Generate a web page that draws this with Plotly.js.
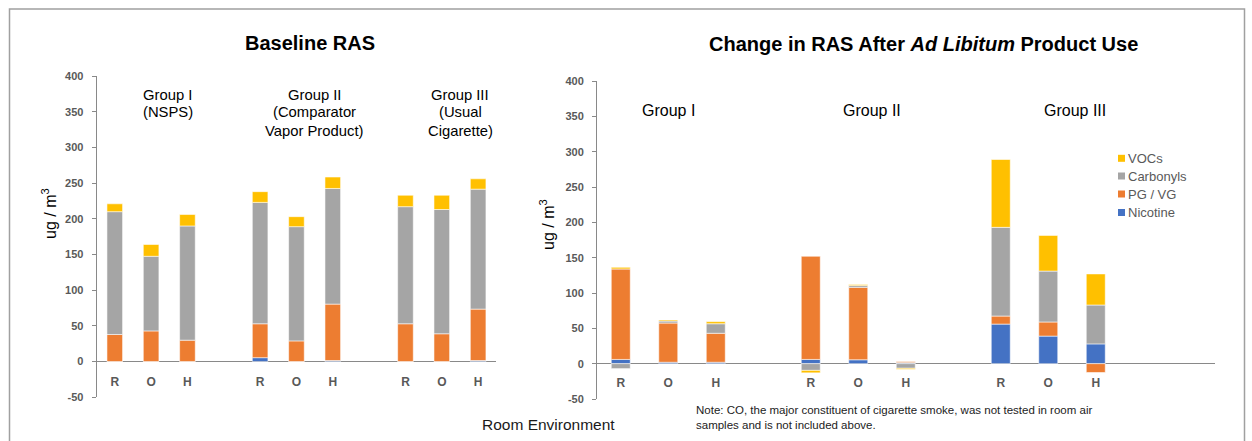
<!DOCTYPE html>
<html><head><meta charset="utf-8">
<script src="https://cdn.plot.ly/plotly-3.0.1.min.js"></script>
<style>html,body{margin:0;padding:0;background:#fff}</style>
</head><body><div id="chart" style="width:1252px;height:441px"></div>
<script>
// ---- data ----
const groups = ['Group I', 'Group II', 'Group III'];
const rooms = ['R', 'O', 'H'];
const seriesNames = ['Nicotine', 'PG / VG', 'Carbonyls', 'VOCs'];
const seriesColors = ['#4472C4', '#ED7D31', '#A5A5A5', '#FFC000'];

// Baseline RAS (order: I-R, I-O, I-H, II-R, II-O, II-H, III-R, III-O, III-H)
const baseNicotine  = [0, 0, 0,      5.5, 0, 1.5,    0, 0, 1.5];
const basePGVG      = [38, 43, 30,   47.5, 29, 79,   53, 39, 72];
const baseCarbonyls = [172, 104.5, 160, 170, 160, 162, 164, 174, 168];
const baseVOCs      = [11, 16.5, 16, 15, 14, 16,     16, 20, 14.5];

// Change in RAS after ad libitum product use
const chgNicotine  = [6, 2, 2,        6, 5.5, 1.5,     56, 39, 28];
const chgPGVG      = [128, 55.5, 41,  146, 102.5, 1.5, 11.4, 20, -12.5];
const chgCarbonyls = [-7, 2.8, 13.5,  -9.5, 2.5, -6.5, 125.5, 72, 55];
const chgVOCs      = [2.4, 1.5, 3,    -3.5, 1.5, -1.5, 96, 50.5, 44];

const leftGroupLabels = [['Group I', '(NSPS)'], ['Group II', '(Comparator', 'Vapor Product)'], ['Group III', '(Usual', 'Cigarette)']];
const rightGroupLabels = ['Group I', 'Group II', 'Group III'];
const yTicks = [-50, 0, 50, 100, 150, 200, 250, 300, 350, 400];

// ---- build ----
const W = 1252, H = 441;
const px = x => x / W;
const py = y => 1 - y / H;
const FONT = 'Liberation Sans, Arial, sans-serif';

// slot positions on a linear axis: groups separated by one empty slot
const slots = [], tickText = [];
groups.forEach((g, gi) => rooms.forEach((r, ri) => { slots.push(gi * (rooms.length + 1) + ri); tickText.push(r); }));

const baseSeries = [baseNicotine, basePGVG, baseCarbonyls, baseVOCs];
const chgSeries = [chgNicotine, chgPGVG, chgCarbonyls, chgVOCs];

const traces = [];
seriesNames.forEach((name, i) => {
  traces.push({type: 'bar', name, x: slots, y: baseSeries[i], xaxis: 'x', yaxis: 'y', width: 0.43,
    marker: {color: seriesColors[i], line: {color: 'rgba(255,255,255,0.7)', width: 0.8}},
    showlegend: false, hoverinfo: 'skip'});
});
seriesNames.forEach((name, i) => {
  traces.push({type: 'bar', name, x: slots, y: chgSeries[i], xaxis: 'x2', yaxis: 'y2', width: 0.40,
    marker: {color: seriesColors[i], line: {color: 'rgba(255,255,255,0.7)', width: 0.8}},
    showlegend: false, hoverinfo: 'skip'});
});

const tickFontY = {family: FONT, size: 11, color: '#595959', weight: 'bold'};
const tickFontX = {family: FONT, size: 12, color: '#595959', weight: 'bold'};
const axisGray = '#898989';

function yAxis(domain, anchor) {
  return {domain, anchor, range: [-50, 400], tickvals: yTicks, ticktext: yTicks.map(String), showgrid: false,
    showline: true, linecolor: axisGray, linewidth: 1, ticks: 'outside', ticklen: 4, tickcolor: axisGray,
    zeroline: true, zerolinecolor: axisGray, zerolinewidth: 1.3, tickfont: tickFontY,
    ticklabelstandoff: 6, fixedrange: true};
}
function xAxis(domain, range, pos) {
  return {domain, range, anchor: 'free', position: pos, tickvals: slots, ticktext: tickText,
    showline: false, zeroline: false, showgrid: false, ticks: '', tickfont: tickFontX,
    ticklabelstandoff: 11, fixedrange: true};
}

const annotations = [];
function txt(text, x, y, size, opts) {
  annotations.push(Object.assign({text, x: px(x), y: py(y), xref: 'paper', yref: 'paper', showarrow: false,
    xanchor: 'center', yanchor: 'middle', font: {family: FONT, size, color: '#000'}}, opts || {}));
}
txt('<b>Baseline RAS</b>', 310, 43, 20);
txt('<b>Change in RAS After <i>Ad Libitum</i> Product Use</b>', 923.5, 44, 20);

const leftCenters = [167.7, 314, 460];
leftGroupLabels.forEach((lines, gi) => lines.forEach((l, k) => txt(l, leftCenters[gi], 94.5 + k * 18, 14.8)));
const rightCenters = [668, 872, 1075];
rightGroupLabels.forEach((l, gi) => txt(l, rightCenters[gi], 110.5, 16));

txt('ug / m<sup>3</sup>', 49, 214, 16, {textangle: -90});
txt('ug / m<sup>3</sup>', 547, 225, 16, {textangle: -90});
txt('Room Environment', 548, 424, 15.5, {font: {family: FONT, size: 15.5, color: '#1a1a1a'}});
txt('Note: CO, the major constituent of cigarette smoke, was not tested in room air<br>samples and is not included above.',
  694, 417.5, 11.5, {xanchor: 'left', align: 'left', font: {family: FONT, size: 11.5, color: '#222'}});

const shapes = [];
// legend (top to bottom: reverse of stacking order)
const legendRows = [158.3, 176, 194, 212.5];
seriesNames.slice().reverse().forEach((name, k) => {
  const color = seriesColors[seriesNames.length - 1 - k];
  shapes.push({type: 'rect', xref: 'paper', yref: 'paper', x0: px(1118), x1: px(1125), y0: py(legendRows[k] + 3.5), y1: py(legendRows[k] - 3.5),
    fillcolor: color, line: {width: 0}});
  txt(name, 1125.5, legendRows[k], 13, {xanchor: 'left', font: {family: FONT, size: 13, color: '#595959'}});
});
// outer frame
shapes.push({type: 'rect', xref: 'paper', yref: 'paper', x0: px(9.5), x1: px(1244.5), y0: -0.2, y1: py(9),
  line: {color: '#a0a0a0', width: 1.5}, fillcolor: 'rgba(0,0,0,0)', layer: 'below'});

const layout = {
  width: W, height: H, margin: {l: 0, r: 0, t: 0, b: 0},
  paper_bgcolor: '#fff', plot_bgcolor: 'rgba(0,0,0,0)',
  font: {family: FONT},
  barmode: 'relative', showlegend: false,
  xaxis: xAxis([px(96.6), px(496.3)], [-0.5, 10.5], py(361.7)),
  yaxis: yAxis([py(397.3), py(76)], 'x'),
  xaxis2: xAxis([px(597), px(1214.5)], [-0.5, 12.5], py(363.3)),
  yaxis2: yAxis([py(399), py(81)], 'x2'),
  annotations, shapes
};

Plotly.newPlot('chart', traces, layout, {displayModeBar: false, staticPlot: true});
</script>
</body></html>
